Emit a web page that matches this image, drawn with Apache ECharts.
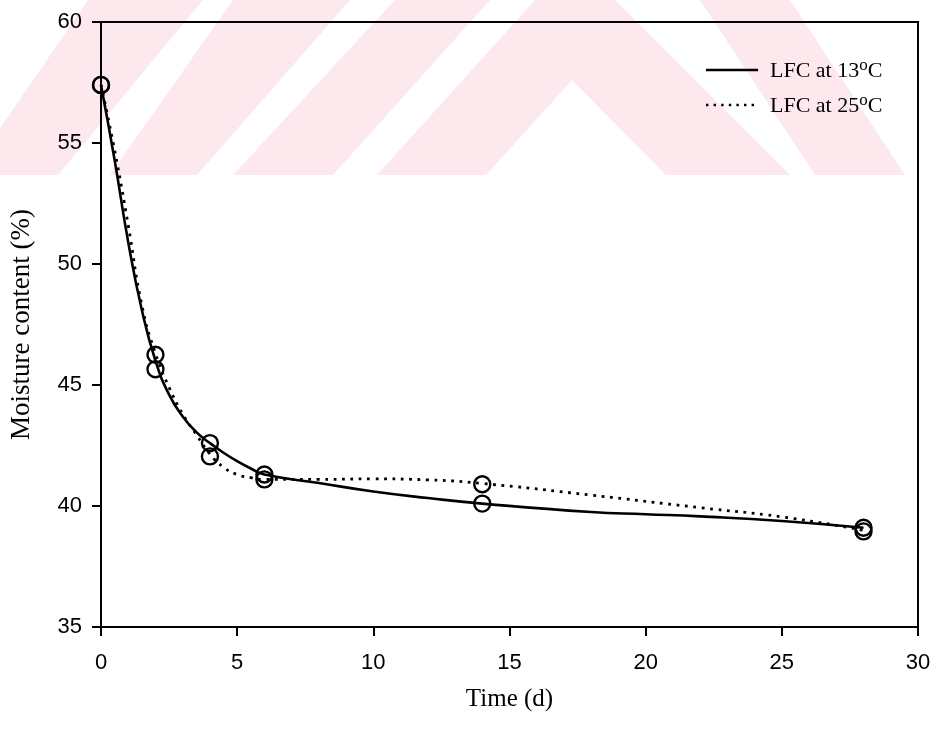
<!DOCTYPE html>
<html>
<head>
<meta charset="utf-8">
<script src="https://cdn.jsdelivr.net/npm/echarts@6/dist/echarts.min.js"></script>
<style>
  html, body { margin: 0; padding: 0; background: #fff; }
  #chart { width: 939px; height: 733px; }
</style>
</head>
<body>
<div id="chart"></div>
<script>
// Measured moisture content of the samples (days, %)
const obsDays13 = [0, 2, 4, 6, 14, 28];
const obs13 = [57.4, 45.65, 42.6, 41.3, 40.1, 39.1];
const obsDays25 = [0, 2, 4, 6, 14, 28];
const obs25 = [57.4, 46.25, 42.05, 41.1, 40.9, 38.95];

// Fitted drying curves, sampled along each line
const fitDays13 = [0, 0.5, 1, 1.5, 2, 2.5, 3, 3.5, 4, 4.5, 5, 5.5, 6, 8, 10, 12, 14, 18, 20, 22, 25, 28];
const fit13 = [57.4, 54.3, 50.9, 48.1, 46.0, 44.6, 43.7, 43.05, 42.6, 42.2, 41.85, 41.55, 41.3, 40.95, 40.6, 40.33, 40.1, 39.75, 39.66, 39.57, 39.38, 39.1];
const fitDays25 = [0, 0.5, 1, 1.5, 2, 2.5, 3, 3.5, 4, 4.5, 5, 5.5, 6, 8, 10, 12, 14, 18, 22, 25, 28];
const fit25 = [57.4, 54.7, 51.6, 48.3, 46.3, 44.9, 43.8, 42.95, 42.15, 41.6, 41.3, 41.17, 41.1, 41.1, 41.12, 41.08, 40.93, 40.45, 39.93, 39.55, 39.0];

const seriesNames = ['LFC at 13°C', 'LFC at 25°C'];
const xTicks = { min: 0, max: 30, step: 5 };
const yTicks = { min: 35, max: 60, step: 5 };

const pairs = (xs, ys) => xs.map((x, i) => [x, ys[i]]);

const SOLID = { color: '#000', width: 2.6, type: 'solid' };
const DOTTED = { color: '#000', width: 2.8, type: [2.8, 5.6] };

// Pale background stripes across the top band
const pink = '#fde9ed';
const stripes = [
  [[88, 0], [203, 0], [58, 175], [-32, 175]],
  [[233, 0], [350, 0], [197, 175], [110, 175]],
  [[395, 0], [490, 0], [333, 175], [233, 175]],
  [[535, 0], [615, 0], [790, 175], [666, 175], [572, 80], [486, 175], [377, 175]],
  [[700, 0], [790, 0], [905, 175], [815, 175]]
];

const supLabel = name => {
  const m = name.match(/^(.*?)°C$/);
  return m ? '{t|' + m[1] + '}{s|o}{t|C}' : name;
};

// Key in the upper right: line sample + label for each curve
const keyRows = seriesNames.map((name, i) => {
  const y = 70 + i * 35;
  const style = i === 0 ? SOLID : DOTTED;
  return [
    {
      type: 'line', silent: true, z: 20,
      shape: { x1: 706, y1: y, x2: 758, y2: y },
      style: { stroke: style.color, lineWidth: i === 0 ? 2.6 : 2.4, lineDash: style.type === 'solid' ? null : [2.4, 5.2] }
    },
    {
      type: 'text', silent: true, z: 20, x: 770, y: y + 1,
      style: {
        text: supLabel(name), verticalAlign: 'middle', align: 'left',
        rich: {
          t: { fontFamily: 'Liberation Serif', fontSize: 22, fill: '#000' },
          s: { fontFamily: 'Liberation Serif', fontSize: 17, fill: '#000', padding: [0, 0, 11, 0] }
        }
      }
    }
  ];
}).flat();

const chart = echarts.init(document.getElementById('chart'), null, { renderer: 'canvas' });

chart.setOption({
  animation: false,
  backgroundColor: '#fff',
  graphic: stripes.map(pts => ({
    type: 'polygon',
    z: -10,
    silent: true,
    shape: { points: pts },
    style: { fill: pink }
  })).concat(keyRows),
  grid: {
    left: 100, right: 21, top: 22, bottom: 106,
    show: true, borderColor: '#000', borderWidth: 2, backgroundColor: 'transparent'
  },
  xAxis: {
    type: 'value',
    min: xTicks.min, max: xTicks.max, interval: xTicks.step,
    name: 'Time (d)', nameLocation: 'middle', nameGap: 60,
    nameTextStyle: { fontFamily: 'Liberation Serif', fontSize: 25, color: '#000' },
    axisLine: { lineStyle: { color: '#000', width: 2 } },
    axisTick: { inside: false, length: 9, lineStyle: { color: '#000', width: 2 } },
    axisLabel: { fontFamily: 'Liberation Sans', fontSize: 22, color: '#000', margin: 25 },
    splitLine: { show: false }
  },
  yAxis: {
    type: 'value',
    min: yTicks.min, max: yTicks.max, interval: yTicks.step,
    name: 'Moisture content (%)', nameLocation: 'middle', nameGap: 66,
    nameTextStyle: { fontFamily: 'Liberation Serif', fontSize: 27, color: '#000' },
    axisLine: { lineStyle: { color: '#000', width: 2 } },
    axisTick: { inside: false, length: 9, lineStyle: { color: '#000', width: 2 } },
    axisLabel: { fontFamily: 'Liberation Sans', fontSize: 22, color: '#000', margin: 19 },
    splitLine: { show: false }
  },
  series: [
    {
      name: seriesNames[0], type: 'line', smooth: 0.5, symbol: 'none',
      data: pairs(fitDays13, fit13),
      lineStyle: SOLID, itemStyle: { color: '#000' }, z: 3
    },
    {
      name: seriesNames[1], type: 'line', smooth: 0.5, symbol: 'none',
      data: pairs(fitDays25, fit25),
      lineStyle: DOTTED, itemStyle: { color: '#000' }, z: 3
    },
    {
      name: 'obs13', type: 'scatter', symbol: 'circle', symbolSize: 16,
      data: pairs(obsDays13, obs13),
      itemStyle: { color: 'rgba(0,0,0,0)', borderColor: '#000', borderWidth: 2.4, opacity: 1 }, z: 4
    },
    {
      name: 'obs25', type: 'scatter', symbol: 'circle', symbolSize: 16,
      data: pairs(obsDays25, obs25),
      itemStyle: { color: 'rgba(0,0,0,0)', borderColor: '#000', borderWidth: 2.4, opacity: 1 }, z: 4
    }
  ]
});
</script>
</body>
</html>
